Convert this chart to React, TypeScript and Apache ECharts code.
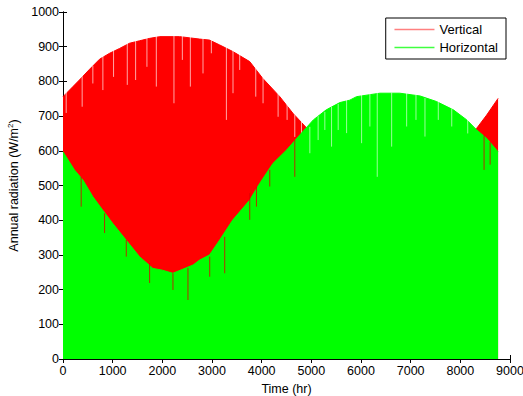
import React, { useEffect, useRef } from "react";
import * as echarts from "echarts";

// Daily-peak envelope of vertical-surface radiation [hour, W/m²]
const verticalEnvelope: [number, number][] = [
  [0, 756], [200, 785], [330, 804], [535, 835], [736, 864], [938, 881], [1140, 895],
  [1340, 910], [1540, 917], [1745, 924], [1950, 929], [2350, 929], [2750, 922],
  [2950, 919], [3155, 905], [3420, 886], [3760, 857], [4020, 809], [4365, 756],
  [4630, 708], [4910, 665], [5300, 640], [6000, 605], [6600, 595], [7200, 605],
  [7800, 630], [8250, 655], [8330, 665], [8530, 703], [8760, 751],
];

// Daily-peak envelope of horizontal-surface radiation [hour, W/m²]
const horizontalEnvelope: [number, number][] = [
  [0, 597], [230, 545], [400, 516], [600, 468], [800, 429], [1000, 391], [1270, 343],
  [1540, 295], [1810, 261], [2000, 256], [2210, 247], [2400, 258], [2620, 271],
  [2750, 285], [2950, 300], [3155, 343], [3420, 401], [3760, 458], [3960, 506],
  [4230, 564], [4500, 602], [4770, 646], [5040, 689], [5300, 718], [5575, 739],
  [5775, 746], [5910, 756], [6380, 766], [6780, 766], [7190, 758], [7520, 742],
  [7860, 718], [8130, 689], [8330, 660], [8530, 636], [8760, 597],
];

// Cloudy days: [hour, envelope top, day's peak]
const verticalDips: [number, number, number][] = [
  [64, 770, 709], [386, 815, 727], [601, 845, 794], [803, 875, 775], [1018, 890, 813],
  [1294, 912, 790], [1462, 920, 804], [1690, 928, 842], [1879, 932, 785],
  [2234, 933, 737], [2403, 933, 862], [2564, 930, 785], [2819, 925, 823],
  [2987, 922, 881], [3290, 900, 689], [3423, 890, 766], [3558, 880, 833],
  [3881, 840, 756], [4028, 812, 737], [4331, 765, 698], [4512, 740, 689],
  [4667, 705, 640], [4802, 685, 631],
];

const horizontalDipsWinter: [number, number, number][] = [
  [366, 525, 439], [837, 420, 363], [1274, 343, 295], [1744, 276, 219],
  [2214, 247, 199], [2516, 262, 170], [2954, 295, 237], [3256, 352, 247],
  [3760, 478, 401], [3895, 497, 439], [4163, 545, 497], [4667, 631, 525],
  [8478, 645, 545], [8600, 625, 560],
];

const horizontalDipsSummer: [number, number, number][] = [
  [4970, 669, 593], [5137, 700, 631], [5272, 712, 660], [5407, 727, 612],
  [5541, 735, 660], [5710, 750, 651], [6012, 762, 622], [6179, 766, 670],
  [6327, 768, 525], [6617, 768, 612], [6919, 768, 670], [7107, 762, 689],
  [7288, 752, 641], [7556, 742, 689], [7827, 722, 670], [8149, 690, 650],
];

const xTicks = { min: 0, max: 9000, interval: 1000 };
const yTicks = { min: 0, max: 1000, interval: 100 };

const FONT = "Liberation Sans, Arial, sans-serif";

function dipSeries(data: [number, number, number][], color: string, z: number) {
  return {
    type: "custom",
    z,
    silent: true,
    data,
    encode: { x: 0, y: [1, 2] },
    renderItem: (_params: any, api: any) => {
      const p1 = api.coord([api.value(0), api.value(1)]);
      const p2 = api.coord([api.value(0), api.value(2)]);
      return {
        type: "line",
        shape: { x1: p1[0], y1: p1[1], x2: p2[0], y2: p2[1] },
        style: { stroke: color, lineWidth: 1 },
      };
    },
  };
}

export default function App() {
  const ref = useRef<HTMLDivElement>(null);
  useEffect(() => {
    if (!ref.current) return;
    const chart = echarts.init(ref.current, undefined, { renderer: "svg" });
    const axisCommon = {
      axisLine: { show: true, lineStyle: { color: "#000", width: 1 } },
      axisTick: { show: true, inside: true, length: 4, lineStyle: { color: "#000" } },
      splitLine: { show: false },
    };
    const plain = (v: number) => String(v);
    chart.setOption({
      animation: false,
      backgroundColor: "#fff",
      grid: { left: 63, right: 13, top: 12, bottom: 37, outerBoundsMode: "none", containLabel: false },
      legend: {
        orient: "vertical",
        right: 17,
        top: 18,
        padding: [5, 8, 5, 8],
        itemWidth: 40,
        itemHeight: 14,
        itemGap: 5,
        borderColor: "#000",
        borderWidth: 1,
        backgroundColor: "#fff",
        textStyle: { fontFamily: FONT, fontSize: 13, color: "#000" },
        itemStyle: { opacity: 0 },
        lineStyle: { width: 1.5 },
        data: [
          { name: "Vertical", itemStyle: { opacity: 0 }, lineStyle: { color: "#ff8080", width: 1.5 } },
          { name: "Horizontal", itemStyle: { opacity: 0 }, lineStyle: { color: "#40ff40", width: 1.5 } },
        ],
        z: 10,
      },
      xAxis: [
        {
          type: "value",
          ...xTicks,
          ...axisCommon,
          name: "Time (hr)",
          nameLocation: "middle",
          nameGap: 23,
          nameTextStyle: { fontFamily: FONT, fontSize: 12.5, color: "#000" },
          axisLabel: { fontFamily: FONT, fontSize: 12.5, color: "#000", margin: 5, formatter: plain },
        },
        {
          type: "value",
          position: "top",
          ...xTicks,
          ...axisCommon,
          axisLabel: { show: false },
        },
      ],
      yAxis: [
        {
          type: "value",
          ...yTicks,
          ...axisCommon,
          name: "Annual radiation (W/m{sup|2})",
          nameLocation: "middle",
          nameGap: 40,
          nameTextStyle: {
            fontFamily: FONT,
            fontSize: 12.5,
            color: "#000",
            rich: { sup: { fontFamily: FONT, fontSize: 8, color: "#000", padding: [0, 0, 6, 0] } },
          },
          axisLabel: { fontFamily: FONT, fontSize: 12.5, color: "#000", margin: 4, formatter: plain },
        },
        {
          type: "value",
          position: "right",
          ...yTicks,
          ...axisCommon,
          axisLabel: { show: false },
        },
      ],
      series: [
        {
          name: "Vertical",
          type: "line",
          z: 1,
          symbol: "none",
          data: verticalEnvelope,
          lineStyle: { color: "#ff0000", width: 1 },
          itemStyle: { color: "#ff0000" },
          areaStyle: { color: "#ff0000", opacity: 1 },
        },
        dipSeries(verticalDips, "rgba(255,255,255,0.65)", 2),
        {
          name: "Horizontal",
          type: "line",
          z: 3,
          symbol: "none",
          data: horizontalEnvelope,
          lineStyle: { color: "#00ff00", width: 1 },
          itemStyle: { color: "#00ff00" },
          areaStyle: { color: "#00ff00", opacity: 1 },
        },
        dipSeries(horizontalDipsWinter, "rgba(220,0,0,0.8)", 4),
        dipSeries(horizontalDipsSummer, "rgba(255,255,255,0.6)", 4),
      ],
    });
    return () => chart.dispose();
  }, []);
  return (
    <div
      ref={ref}
      style={{ position: "fixed", left: 0, top: 0, width: 523, height: 396, background: "#fff" }}
    />
  );
}
